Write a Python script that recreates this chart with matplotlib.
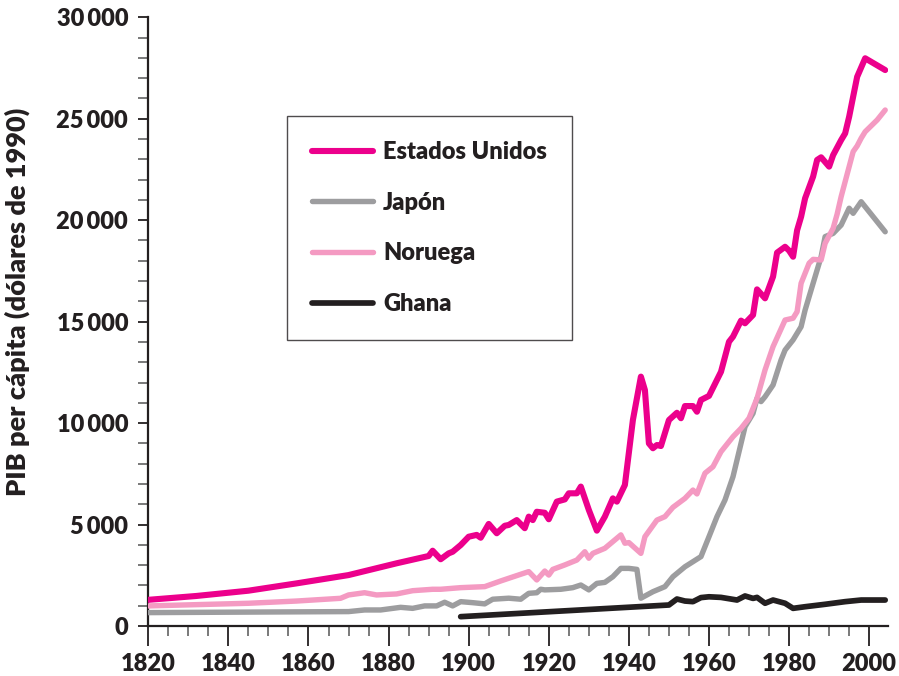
import matplotlib
matplotlib.use("Agg")
import matplotlib.pyplot as plt
from matplotlib.ticker import MultipleLocator, FixedLocator

FAM = ['Lato', 'DejaVu Sans']
WEIGHT = 'heavy'
plt.rcParams['font.family'] = FAM

# ---- data (GDP per capita, 1990 dollars) ----
us_years = [1820, 1832, 1845, 1857, 1870, 1882, 1890, 1891, 1893, 1895, 1896, 1898,
            1900, 1902, 1903, 1905, 1907, 1909, 1910, 1912, 1914, 1915, 1916, 1917,
            1919, 1920, 1922, 1924, 1925, 1927, 1928, 1930, 1932, 1934, 1936, 1937,
            1939, 1941, 1943, 1944, 1945, 1946, 1947, 1948, 1950, 1952, 1953, 1954,
            1956, 1957, 1958, 1960, 1963, 1965, 1966, 1968, 1969, 1971, 1972, 1974,
            1976, 1977, 1979, 1980, 1981, 1982, 1983, 1984, 1986, 1987, 1988, 1990,
            1991, 1993, 1994, 1995, 1996, 1997, 1999, 2004]
us_vals = [1290, 1480, 1740, 2100, 2510, 3090, 3450, 3710, 3290, 3580, 3660, 3990,
           4400, 4490, 4350, 5030, 4570, 4940, 4980, 5220, 4820, 5390, 5220, 5630,
           5580, 5260, 6130, 6240, 6540, 6540, 6870, 5720, 4700, 5390, 6290, 6130,
           6950, 10150, 12290, 11630, 9000, 8760, 8920, 8870, 10150, 10510, 10240, 10840,
           10840, 10560, 11140, 11340, 12530, 14010, 14260, 15050, 14920, 15330, 16590, 16150,
           17220, 18400, 18690, 18500, 18200, 19500, 20170, 21080, 22150, 22970, 23100, 22640,
           23210, 23950, 24280, 25100, 26090, 27070, 27980, 27400]

jp_years = [1820, 1870, 1874, 1878, 1883, 1886, 1889, 1892, 1894, 1896, 1898, 1901,
            1904, 1906, 1910, 1913, 1915, 1917, 1918, 1919, 1923, 1926, 1928, 1930,
            1932, 1934, 1936, 1938, 1940, 1942, 1943, 1946, 1949, 1951, 1954, 1958,
            1960, 1962, 1964, 1966, 1968, 1969, 1971, 1972, 1973, 1974, 1976, 1978,
            1979, 1981, 1983, 1984, 1986, 1988, 1989, 1991, 1993, 1995, 1996, 1998, 2004]
jp_vals = [660, 710, 790, 790, 920, 870, 990, 990, 1170, 990, 1200, 1150,
           1090, 1320, 1370, 1320, 1610, 1640, 1810, 1780, 1810, 1890, 2020, 1780,
           2100, 2150, 2430, 2840, 2840, 2790, 1370, 1690, 1940, 2430, 2920, 3420,
           4400, 5390, 6210, 7360, 9000, 9820, 10480, 11220, 11060, 11300, 11880, 13110,
           13600, 14100, 14750, 15570, 16890, 18200, 19190, 19350, 19760, 20590, 20340, 20910, 19430]

no_years = [1820, 1845, 1857, 1868, 1870, 1874, 1877, 1882, 1886, 1891, 1893, 1898,
            1904, 1908, 1913, 1915, 1917, 1919, 1920, 1921, 1924, 1927, 1929, 1930,
            1931, 1934, 1936, 1938, 1939, 1940, 1943, 1944, 1947, 1949, 1951, 1954,
            1956, 1957, 1959, 1961, 1963, 1966, 1968, 1970, 1972, 1974, 1976, 1979,
            1981, 1982, 1983, 1985, 1986, 1988, 1989, 1991, 1992, 1993, 1995, 1996,
            1997, 1998, 1999, 2002, 2004]
no_vals = [990, 1120, 1230, 1365, 1530, 1640, 1530, 1580, 1740, 1810, 1810, 1890,
           1940, 2220, 2550, 2680, 2270, 2710, 2510, 2790, 3010, 3250, 3660, 3340,
           3580, 3830, 4160, 4490, 4080, 4110, 3580, 4400, 5220, 5390, 5850, 6290,
           6700, 6510, 7530, 7850, 8590, 9330, 9740, 10240, 11220, 12620, 13770, 15080,
           15170, 15490, 16890, 17880, 18070, 18040, 18860, 19600, 20300, 21160, 22640, 23380,
           23660, 24040, 24360, 24940, 25430]

gh_years = [1898, 1950, 1952, 1954, 1956, 1958, 1960, 1963, 1967, 1969, 1971, 1972,
            1974, 1976, 1979, 1981, 1984, 1989, 1994, 1998, 2004]
gh_vals = [460, 1035, 1330, 1230, 1200, 1400, 1440, 1410, 1280, 1480, 1360, 1410,
           1120, 1280, 1120, 870, 950, 1070, 1200, 1280, 1280]

labels = ['Estados Unidos', 'Japón', 'Noruega', 'Ghana']
colors = ['#EC008C', '#9D9D9F', '#F49AC2', '#231F20']

x_major = [1820, 1840, 1860, 1880, 1900, 1920, 1940, 1960, 1980, 2000]
y_major = [0, 5000, 10000, 15000, 20000, 25000, 30000]
y_ticklabels = ['0', '5\u2009000', '10\u2009000', '15\u2009000', '20\u2009000', '25\u2009000', '30\u2009000']

# ---- figure ----
fig = plt.figure(figsize=(8.99, 6.76), dpi=100)
ax = fig.add_axes([148.3 / 899, 1 - 626 / 676, (888 - 148.3) / 899, (626 - 17.3) / 676])

series = [(us_years, us_vals), (jp_years, jp_vals), (no_years, no_vals), (gh_years, gh_vals)]
widths = [4.4, 3.9, 3.9, 4.1]
order = [3, 1, 2, 0]
handles = {}
for i in order:
    yrs, vals = series[i]
    ln, = ax.plot(yrs, vals, color=colors[i], lw=widths[i], solid_joinstyle='round',
                  solid_capstyle='round', label=labels[i], zorder=3 + (i == 0))
    handles[i] = ln

ax.set_xlim(1820, 2004.7)
ax.set_ylim(0, 30000)

for s in ['top', 'right']:
    ax.spines[s].set_visible(False)
for s in ['left', 'bottom']:
    ax.spines[s].set_linewidth(1.6)
    ax.spines[s].set_color('#231F20')

ax.xaxis.set_major_locator(FixedLocator(x_major))
ax.xaxis.set_minor_locator(MultipleLocator(5))
ax.yaxis.set_major_locator(FixedLocator(y_major))
ax.yaxis.set_minor_locator(MultipleLocator(1000))
ax.set_yticklabels(y_ticklabels)

ax.tick_params(axis='x', which='major', direction='out', length=14.4, width=1.3, color='#231F20',
               labelsize=17, pad=5)
ax.tick_params(axis='x', which='minor', direction='out', length=7.2, width=1.1, color='#555555')
ax.tick_params(axis='y', which='major', direction='out', length=7.5, width=1.3, color='#231F20',
               labelsize=17, pad=7)
ax.tick_params(axis='y', which='minor', direction='out', length=7, width=1.1, color='#555555')
for lab in ax.get_xticklabels() + ax.get_yticklabels():
    lab.set_fontweight(WEIGHT)
    lab.set_color('#231F20')
    lab.set_family(FAM)

fig.text(17 / 899, 1 - 302 / 676, 'PIB per cápita (dólares de 1990)', rotation=90,
         ha='center', va='center', fontsize=19.5, fontweight=WEIGHT, color='#231F20', family=FAM)

leg = ax.legend([handles[i] for i in range(4)], labels, loc='upper left',
                bbox_to_anchor=(287 / 899, 1 - 116 / 676), bbox_transform=fig.transFigure,
                frameon=True, fancybox=False, borderaxespad=0, borderpad=1.05,
                handlelength=2.6, handletextpad=0.42, labelspacing=1.22,
                prop={'family': FAM, 'weight': WEIGHT, 'size': 17})
leg.get_frame().set_edgecolor('#231F20')
leg.get_frame().set_linewidth(1.0)
for t in leg.get_texts():
    t.set_color('#231F20')

fig.savefig('out.png', dpi=100)
